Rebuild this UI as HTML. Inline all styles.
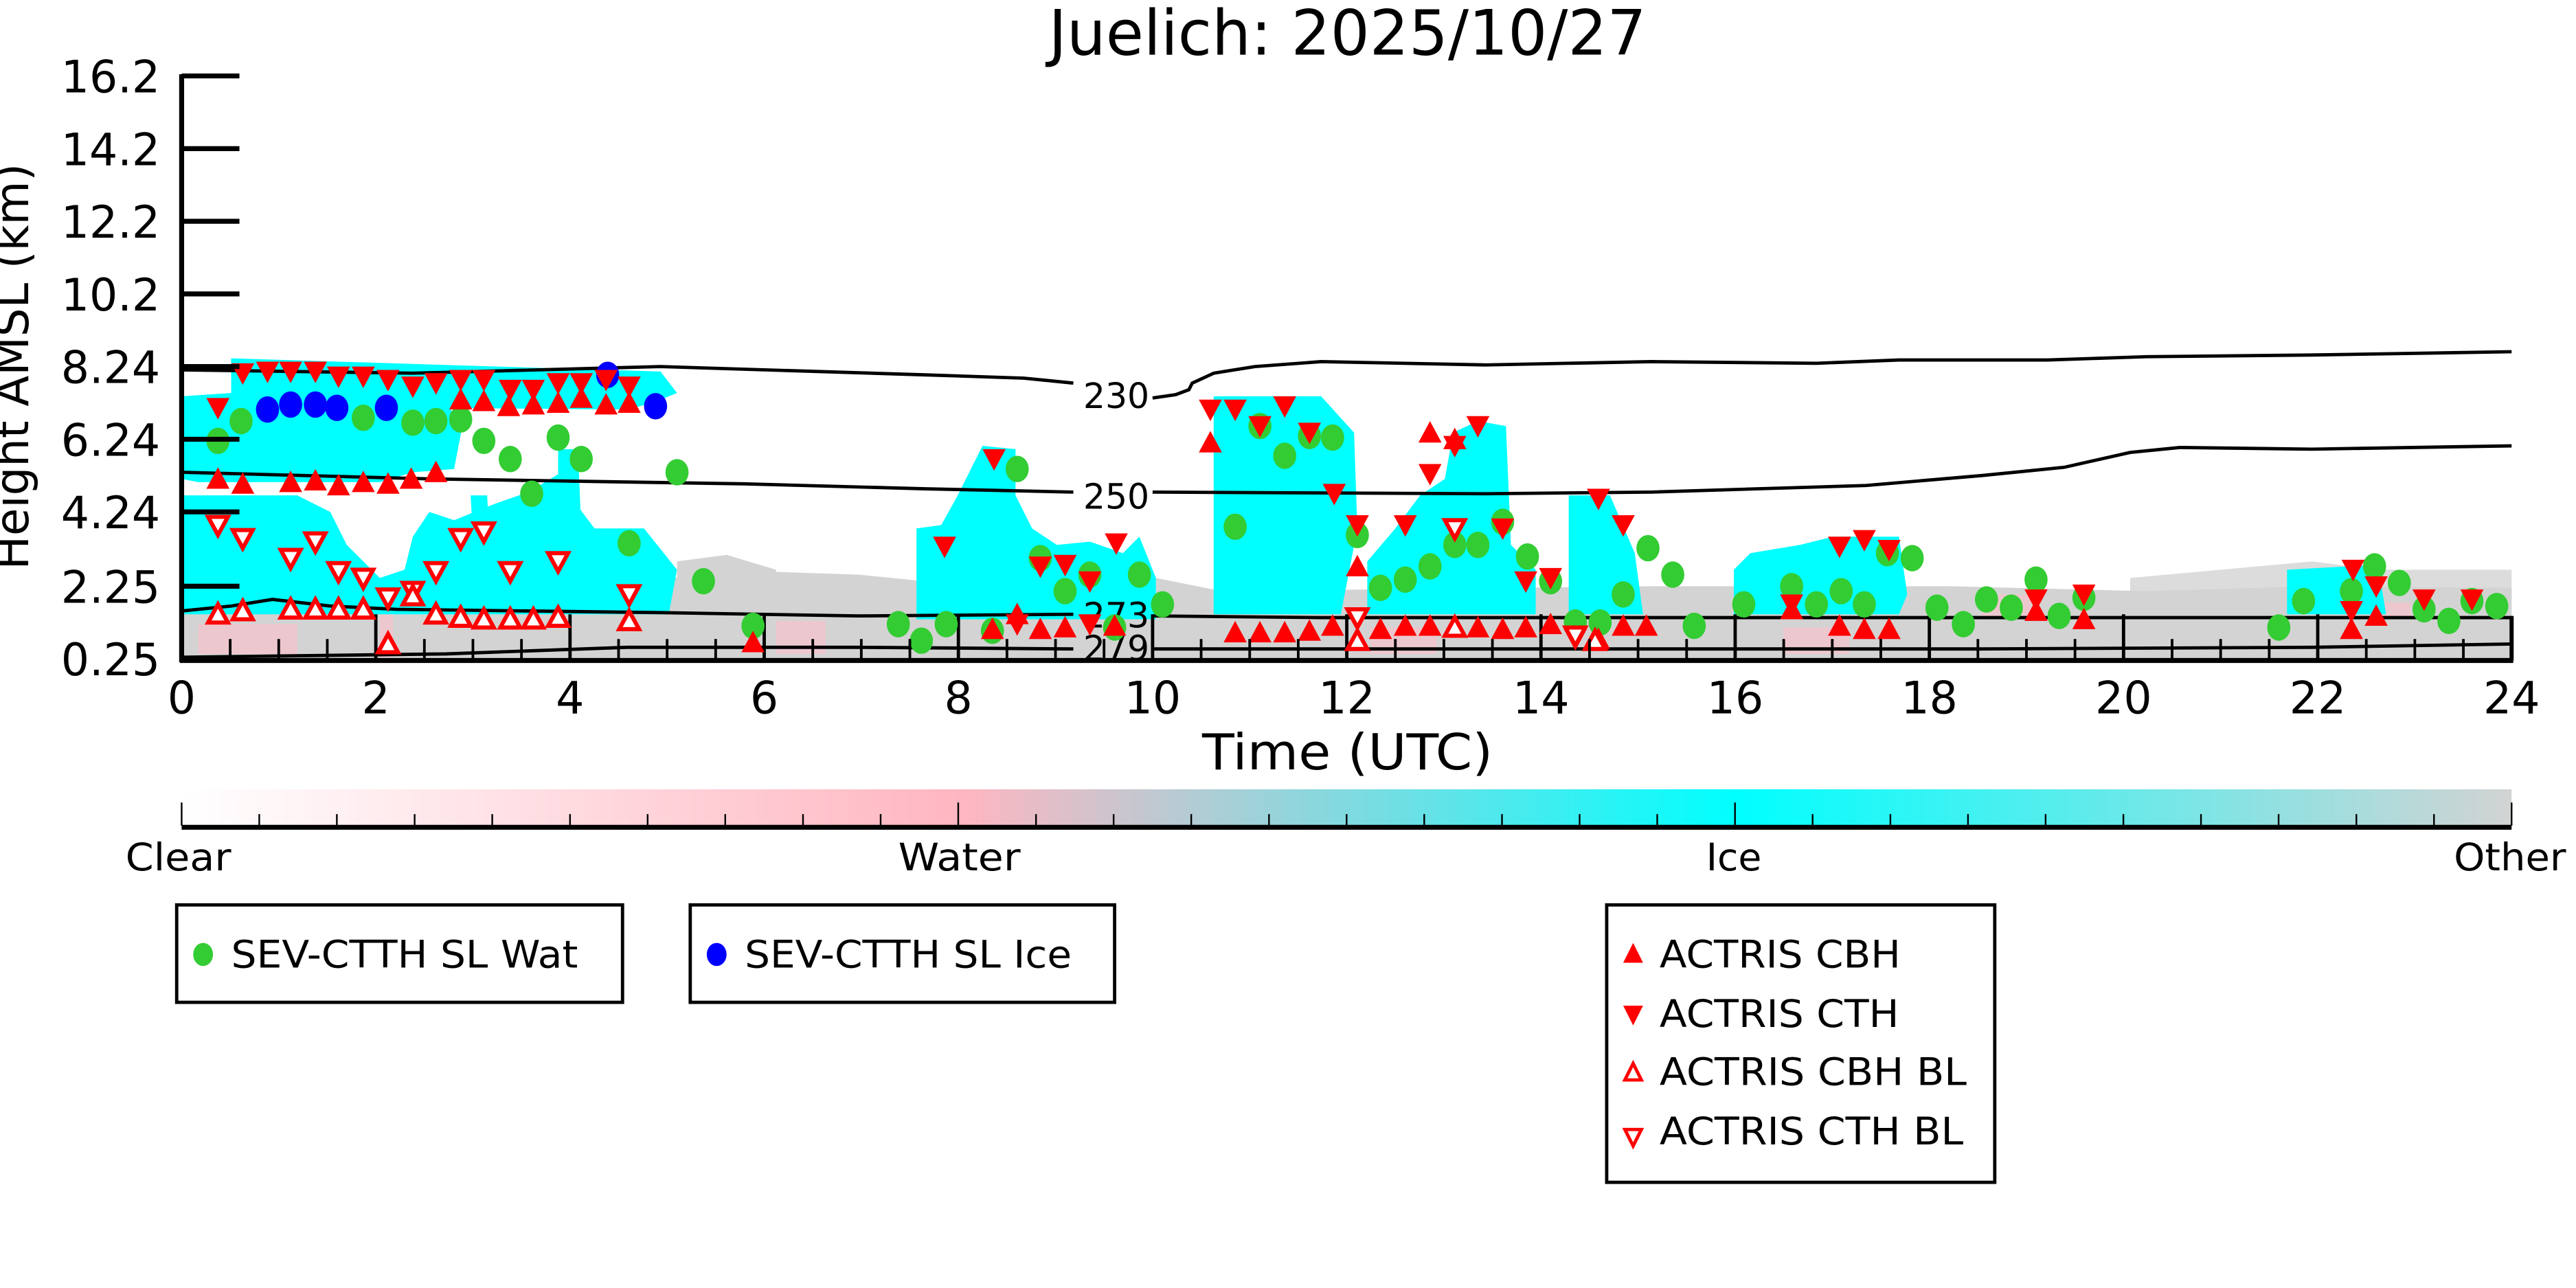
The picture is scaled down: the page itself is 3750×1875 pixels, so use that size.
<!DOCTYPE html>
<html><head><meta charset="utf-8"><style>html,body{margin:0;padding:0;background:#fff}svg{display:block}</style></head>
<body>
<svg width="3750" height="1875" viewBox="0 0 1560 780" preserveAspectRatio="none" xmlns="http://www.w3.org/2000/svg" font-family="'DejaVu Sans','Liberation Sans',sans-serif">
<defs>
<linearGradient id="cb" x1="0" x2="1" y1="0" y2="0">
<stop offset="0" stop-color="#ffffff"/><stop offset="0.335" stop-color="#ffb6c1"/><stop offset="0.667" stop-color="#00ffff"/><stop offset="1" stop-color="#d3d3d3"/>
</linearGradient>
<path id="u" d="M0,-7 L7,6 L-7,6 Z" fill="#ff0000"/>
<path id="d" d="M0,7 L7,-6 L-7,-6 Z" fill="#ff0000"/>
<path id="uo" d="M0,-6 L6,5 L-6,5 Z" fill="#fff" stroke="#ff0000" stroke-width="2.5"/>
<path id="do" d="M0,6 L6,-5 L-6,-5 Z" fill="#fff" stroke="#ff0000" stroke-width="2.5"/>
<ellipse id="g" rx="7" ry="8" fill="#33cc33"/>
<ellipse id="b" rx="7" ry="8" fill="#0000ff"/>
</defs>
<rect width="1560" height="780" fill="#fff"/>
<text x="816" y="33" font-size="38" text-anchor="middle" textLength="362" lengthAdjust="spacingAndGlyphs">Juelich: 2025/10/27</text>

<!-- gray background -->
<path d="M110,372 L110,358 L400,352 L430,345 L520,348 L560,352 L700,350 L740,358 L1000,355 L1180,355 L1300,358 L1400,355 L1521,356 L1521,400 L110,400 Z" fill="#d3d3d3"/>
<path d="M410,340 L440,336 L470,345 L470,372 L410,372 Z" fill="#d3d3d3"/>
<path d="M1290,350 L1400,340 L1440,345 L1521,345 L1521,372 L1290,372 Z" fill="#d3d3d3" opacity="0.8"/>
<g fill="#ffc0cb" opacity="0.6">
<rect x="120" y="378" width="60" height="18"/><rect x="230" y="360" width="8" height="38"/><rect x="470" y="376" width="30" height="20"/><rect x="830" y="380" width="40" height="16"/><rect x="1080" y="380" width="40" height="16"/><rect x="1200" y="360" width="30" height="14"/><rect x="1440" y="365" width="20" height="10"/>
</g>

<!-- cyan cloud regions -->
<g fill="#00ffff">
<path d="M140,217 L400,225 L410,238 L395,244 L380,248 L140,246 Z"/>
<path d="M110,240 L140,238 L150,242 L270,244 L280,258 L275,284 L250,286 L230,292 L120,292 L110,290 Z"/>
<path d="M110,300 L180,300 L200,310 L210,330 L230,350 L245,345 L250,325 L260,310 L275,315 L300,305 L320,298 L350,280 L345,300 L360,320 L390,320 L410,345 L405,372 L110,372 Z"/>
<path d="M338,272 L350,272 L352,320 L338,320 Z"/>
<path d="M555,320 L570,318 L580,300 L595,270 L615,272 L615,300 L625,320 L640,330 L660,328 L680,335 L690,325 L700,350 L700,375 L555,375 Z"/>
<path d="M735,240 L800,240 L820,262 L822,320 L812,372 L735,372 Z"/>
<path d="M828,340 L845,320 L860,300 L875,290 L880,262 L895,255 L912,258 L915,330 L930,345 L930,372 L828,372 Z"/>
<path d="M950,300 L975,300 L990,335 L995,372 L950,372 Z"/>
<path d="M1050,345 L1060,335 L1090,330 L1110,325 L1150,325 L1155,360 L1150,372 L1050,372 Z"/>
<path d="M1385,345 L1440,342 L1445,372 L1385,372 Z"/>
<path d="M285,300 L295,300 L297,335 L287,335 Z"/>
</g>

<!-- contours -->
<g fill="none" stroke="#000" stroke-width="2">
<path d="M110,224 L250,226 L400,222 L560,227 L620,229 L650,232"/>
<path d="M698,241 L712,239 L720,236 L722,232 L735,226 L760,222 L800,219 L900,221 L1000,219 L1100,220 L1150,218 L1240,218 L1300,216 L1400,215 L1521,213"/>
<path d="M110,286 L260,290 L450,293 L560,296 L650,298"/>
<path d="M698,298 L900,299 L1000,298 L1130,294 L1200,288 L1250,283 L1290,274 L1320,271 L1400,272 L1521,270"/>
<path d="M110,370 L140,367 L165,363 L200,367 L240,369 L400,371 L520,373 L650,372"/>
<path d="M698,373 L800,374 L1521,374"/>
<path d="M110,398 L270,396 L380,392 L520,392 L650,393"/>
<path d="M698,393 L1200,393 L1400,392 L1521,390"/>
</g>
<g font-size="21" text-anchor="middle">
<text x="676" y="247">230</text>
<text x="676" y="308">250</text>
<text x="676" y="380">273</text>
<text x="676" y="400">279</text>
</g>

<!-- bottom box ticks -->
<g stroke="#000" stroke-width="2">
<line x1="1521" y1="373" x2="1521" y2="400" stroke-width="2.5"/>
<line x1="227.6" y1="372" x2="227.6" y2="400"/><line x1="345.2" y1="372" x2="345.2" y2="400"/><line x1="462.8" y1="372" x2="462.8" y2="400"/><line x1="580.4" y1="372" x2="580.4" y2="400"/><line x1="698" y1="372" x2="698" y2="400"/><line x1="815.6" y1="372" x2="815.6" y2="400"/><line x1="933.2" y1="372" x2="933.2" y2="400"/><line x1="1050.8" y1="372" x2="1050.8" y2="400"/><line x1="1168.4" y1="372" x2="1168.4" y2="400"/><line x1="1286" y1="372" x2="1286" y2="400"/><line x1="1403.6" y1="372" x2="1403.6" y2="400"/>
</g>

<!-- markers -->
<g>
<use href="#g" x="132" y="267"/><use href="#g" x="146" y="255"/><use href="#g" x="220" y="253"/><use href="#g" x="250" y="256"/><use href="#g" x="264" y="255"/><use href="#g" x="279" y="254"/><use href="#g" x="293" y="267"/><use href="#g" x="309" y="278"/><use href="#g" x="322" y="299"/><use href="#g" x="338" y="265"/><use href="#g" x="352" y="278"/><use href="#g" x="381" y="329"/><use href="#g" x="410" y="286"/><use href="#g" x="426" y="352"/><use href="#g" x="456" y="379"/><use href="#g" x="544" y="378"/><use href="#g" x="558" y="388"/><use href="#g" x="573" y="378"/><use href="#g" x="601" y="382"/><use href="#g" x="616" y="284"/><use href="#g" x="630" y="338"/><use href="#g" x="645" y="358"/><use href="#g" x="660" y="348"/><use href="#g" x="675" y="380"/><use href="#g" x="690" y="348"/><use href="#g" x="704" y="366"/><use href="#g" x="748" y="319"/><use href="#g" x="763" y="258"/><use href="#g" x="778" y="276"/><use href="#g" x="793" y="264"/><use href="#g" x="807" y="265"/><use href="#g" x="822" y="324"/><use href="#g" x="836" y="356"/><use href="#g" x="851" y="351"/><use href="#g" x="866" y="343"/><use href="#g" x="881" y="330"/><use href="#g" x="895" y="330"/><use href="#g" x="910" y="316"/><use href="#g" x="925" y="337"/><use href="#g" x="939" y="352"/><use href="#g" x="954" y="377"/><use href="#g" x="969" y="377"/><use href="#g" x="983" y="360"/><use href="#g" x="998" y="332"/><use href="#g" x="1013" y="348"/><use href="#g" x="1026" y="379"/><use href="#g" x="1056" y="366"/><use href="#g" x="1085" y="355"/><use href="#g" x="1100" y="366"/><use href="#g" x="1115" y="358"/><use href="#g" x="1129" y="366"/><use href="#g" x="1143" y="335"/><use href="#g" x="1158" y="338"/><use href="#g" x="1173" y="368"/><use href="#g" x="1189" y="378"/><use href="#g" x="1203" y="363"/><use href="#g" x="1218" y="368"/><use href="#g" x="1233" y="351"/><use href="#g" x="1247" y="373"/><use href="#g" x="1262" y="362"/><use href="#g" x="1380" y="380"/><use href="#g" x="1395" y="364"/><use href="#g" x="1424" y="358"/><use href="#g" x="1438" y="343"/><use href="#g" x="1453" y="353"/><use href="#g" x="1468" y="369"/><use href="#g" x="1483" y="376"/><use href="#g" x="1497" y="364"/><use href="#g" x="1512" y="367"/>
<use href="#b" x="162" y="248"/><use href="#b" x="176" y="245"/><use href="#b" x="191" y="245"/><use href="#b" x="204" y="247"/><use href="#b" x="234" y="247"/><use href="#b" x="368" y="227"/><use href="#b" x="397" y="246"/>
<use href="#d" x="132" y="247"/><use href="#d" x="147" y="226"/><use href="#d" x="162" y="225"/><use href="#d" x="176" y="225"/><use href="#d" x="191" y="225"/><use href="#d" x="205" y="228"/><use href="#d" x="220" y="228"/><use href="#d" x="235" y="230"/><use href="#d" x="250" y="234"/><use href="#d" x="264" y="232"/><use href="#d" x="279" y="230"/><use href="#d" x="293" y="230"/><use href="#d" x="309" y="236"/><use href="#d" x="323" y="236"/><use href="#d" x="338" y="232"/><use href="#d" x="352" y="232"/><use href="#d" x="367" y="230"/><use href="#d" x="381" y="234"/><use href="#d" x="602" y="278"/><use href="#d" x="572" y="331"/><use href="#d" x="630" y="343"/><use href="#d" x="645" y="342"/><use href="#d" x="660" y="352"/><use href="#d" x="676" y="329"/><use href="#d" x="733" y="248"/><use href="#d" x="748" y="248"/><use href="#d" x="763" y="258"/><use href="#d" x="778" y="246"/><use href="#d" x="793" y="262"/><use href="#d" x="808" y="299"/><use href="#d" x="822" y="318"/><use href="#d" x="851" y="318"/><use href="#d" x="866" y="287"/><use href="#d" x="881" y="270"/><use href="#d" x="895" y="258"/><use href="#d" x="910" y="320"/><use href="#d" x="924" y="352"/><use href="#d" x="939" y="350"/><use href="#d" x="954" y="387"/><use href="#d" x="968" y="302"/><use href="#d" x="983" y="318"/><use href="#d" x="1114" y="331"/><use href="#d" x="1129" y="327"/><use href="#d" x="1144" y="333"/><use href="#d" x="1233" y="363"/><use href="#d" x="1262" y="360"/><use href="#d" x="1425" y="345"/><use href="#d" x="1439" y="355"/><use href="#d" x="1468" y="363"/><use href="#d" x="1497" y="363"/><use href="#d" x="1085" y="366"/><use href="#d" x="1424" y="370"/><use href="#d" x="616" y="378"/><use href="#d" x="660" y="378"/>
<use href="#u" x="132" y="290"/><use href="#u" x="147" y="293"/><use href="#u" x="176" y="292"/><use href="#u" x="191" y="291"/><use href="#u" x="205" y="294"/><use href="#u" x="220" y="292"/><use href="#u" x="235" y="293"/><use href="#u" x="249" y="290"/><use href="#u" x="264" y="286"/><use href="#u" x="279" y="242"/><use href="#u" x="293" y="243"/><use href="#u" x="308" y="246"/><use href="#u" x="323" y="245"/><use href="#u" x="338" y="244"/><use href="#u" x="352" y="241"/><use href="#u" x="367" y="245"/><use href="#u" x="381" y="244"/><use href="#u" x="601" y="381"/><use href="#u" x="630" y="381"/><use href="#u" x="645" y="380"/><use href="#u" x="675" y="379"/><use href="#u" x="733" y="268"/><use href="#u" x="748" y="383"/><use href="#u" x="763" y="383"/><use href="#u" x="778" y="383"/><use href="#u" x="793" y="382"/><use href="#u" x="807" y="379"/><use href="#u" x="822" y="343"/><use href="#u" x="836" y="381"/><use href="#u" x="851" y="379"/><use href="#u" x="866" y="379"/><use href="#u" x="881" y="379"/><use href="#u" x="895" y="380"/><use href="#u" x="910" y="381"/><use href="#u" x="924" y="380"/><use href="#u" x="939" y="378"/><use href="#u" x="968" y="387"/><use href="#u" x="983" y="379"/><use href="#u" x="997" y="379"/><use href="#u" x="1085" y="369"/><use href="#u" x="1114" y="379"/><use href="#u" x="1129" y="381"/><use href="#u" x="1144" y="381"/><use href="#u" x="1233" y="370"/><use href="#u" x="1262" y="375"/><use href="#u" x="1424" y="381"/><use href="#u" x="1439" y="373"/><use href="#u" x="866" y="262"/><use href="#u" x="881" y="266"/><use href="#u" x="456" y="389"/><use href="#u" x="616" y="372"/>
<use href="#do" x="132" y="318"/><use href="#do" x="147" y="326"/><use href="#do" x="176" y="338"/><use href="#do" x="191" y="328"/><use href="#do" x="205" y="346"/><use href="#do" x="220" y="350"/><use href="#do" x="235" y="362"/><use href="#do" x="250" y="358"/><use href="#do" x="264" y="346"/><use href="#do" x="279" y="326"/><use href="#do" x="293" y="322"/><use href="#do" x="309" y="346"/><use href="#do" x="338" y="340"/><use href="#do" x="381" y="360"/><use href="#do" x="881" y="320"/><use href="#do" x="954" y="385"/><use href="#do" x="822" y="374"/>
<use href="#uo" x="132" y="372"/><use href="#uo" x="147" y="370"/><use href="#uo" x="176" y="369"/><use href="#uo" x="191" y="369"/><use href="#uo" x="205" y="369"/><use href="#uo" x="220" y="369"/><use href="#uo" x="235" y="390"/><use href="#uo" x="250" y="361"/><use href="#uo" x="264" y="372"/><use href="#uo" x="279" y="374"/><use href="#uo" x="293" y="375"/><use href="#uo" x="309" y="375"/><use href="#uo" x="323" y="375"/><use href="#uo" x="338" y="374"/><use href="#uo" x="381" y="376"/><use href="#uo" x="966" y="388"/><use href="#uo" x="822" y="388"/><use href="#uo" x="881" y="380"/>
</g>

<!-- minor ticks bottom -->
<g stroke="#000" stroke-width="1.6">
<path d="M139.4,400V387M198.2,400V387M257,400V387M286.4,400V387M315.8,400V387M374.6,400V387M404,400V387M433.4,400V387M492.2,400V387M521.6,400V387M551,400V387M609.8,400V387M639.2,400V387M668.6,400V387M727.4,400V387M756.8,400V387M786.2,400V387M845,400V387M874.4,400V387M903.8,400V387M962.6,400V387M992,400V387M1021.4,400V387M1080.2,400V387M1109.6,400V387M1139,400V387M1197.8,400V387M1227.2,400V387M1256.6,400V387M1315.4,400V387M1344.8,400V387M1374.2,400V387M1433,400V387M1462.4,400V387M1491.8,400V387M168.8,400V387"/>
</g>

<!-- axes -->
<g stroke="#000" stroke-width="3">
<line x1="110" y1="45" x2="110" y2="401"/>
<line x1="109" y1="400" x2="1522" y2="400"/>
<path d="M110,46H145M110,90H145M110,134H145M110,178H145M110,222H145M110,266H145M110,310H145M110,355H145"/>
</g>
<g font-size="27" text-anchor="end">
<text x="97" y="56">16.2</text><text x="97" y="100">14.2</text><text x="97" y="144">12.2</text><text x="97" y="188">10.2</text><text x="97" y="232">8.24</text><text x="97" y="276">6.24</text><text x="97" y="320">4.24</text><text x="97" y="365">2.25</text><text x="97" y="409">0.25</text>
</g>
<g font-size="27" text-anchor="middle">
<text x="110" y="432">0</text><text x="227.6" y="432">2</text><text x="345.2" y="432">4</text><text x="462.8" y="432">6</text><text x="580.4" y="432">8</text><text x="698" y="432">10</text><text x="815.6" y="432">12</text><text x="933.2" y="432">14</text><text x="1050.8" y="432">16</text><text x="1168.4" y="432">18</text><text x="1286" y="432">20</text><text x="1403.6" y="432">22</text><text x="1521" y="432">24</text>
<text x="816" y="466" font-size="30" textLength="176" lengthAdjust="spacingAndGlyphs">Time (UTC)</text>
<text transform="translate(17,222) rotate(-90)" font-size="28" textLength="246" lengthAdjust="spacingAndGlyphs">Height AMSL (km)</text>
</g>

<!-- colorbar -->
<rect x="110" y="478" width="1411" height="22" fill="url(#cb)"/>
<line x1="110" y1="501" x2="1521" y2="501" stroke="#000" stroke-width="3"/>
<g stroke="#000" stroke-width="1">
<path d="M110,486V500M580.3,486V500M1050.7,486V500M1521,486V500"/>
<path d="M157,493V500M204,493V500M251.1,493V500M298.1,493V500M345.2,493V500M392.2,493V500M439.2,493V500M486.3,493V500M533.3,493V500M627.4,493V500M674.4,493V500M721.4,493V500M768.5,493V500M815.5,493V500M862.5,493V500M909.6,493V500M956.6,493V500M1003.6,493V500M1097.7,493V500M1144.8,493V500M1191.8,493V500M1238.8,493V500M1285.9,493V500M1332.9,493V500M1379.9,493V500M1427,493V500M1474,493V500"/>
</g>
<g font-size="23" text-anchor="middle">
<text x="108" y="527" textLength="64" lengthAdjust="spacingAndGlyphs">Clear</text><text x="581" y="527" textLength="74" lengthAdjust="spacingAndGlyphs">Water</text><text x="1050" y="527">Ice</text><text x="1520" y="527" textLength="68" lengthAdjust="spacingAndGlyphs">Other</text>
</g>

<!-- legends -->
<g fill="none" stroke="#000" stroke-width="2">
<rect x="107" y="548" width="270" height="59"/>
<rect x="418" y="548" width="257" height="59"/>
<rect x="973" y="548" width="235" height="168"/>
</g>
<g font-size="23">
<ellipse cx="123" cy="578" rx="6" ry="7" fill="#33cc33"/><text x="140" y="586" textLength="210" lengthAdjust="spacingAndGlyphs">SEV-CTTH SL Wat</text>
<ellipse cx="434" cy="578" rx="6" ry="7" fill="#0000ff"/><text x="451" y="586" textLength="198" lengthAdjust="spacingAndGlyphs">SEV-CTTH SL Ice</text>
<path d="M989,571 L995,583 L983,583Z" fill="#f00"/><text x="1005" y="586" textLength="146" lengthAdjust="spacingAndGlyphs">ACTRIS CBH</text>
<path d="M989,621 L995,609 L983,609Z" fill="#f00"/><text x="1005" y="622" textLength="145" lengthAdjust="spacingAndGlyphs">ACTRIS CTH</text>
<path d="M989,644 L994,654 L984,654Z" fill="#fff" stroke="#f00" stroke-width="2"/><text x="1005" y="657" textLength="186" lengthAdjust="spacingAndGlyphs">ACTRIS CBH BL</text>
<path d="M989,694 L994,684 L984,684Z" fill="#fff" stroke="#f00" stroke-width="2"/><text x="1005" y="693" textLength="184" lengthAdjust="spacingAndGlyphs">ACTRIS CTH BL</text>
</g>
</svg>
</body></html>
